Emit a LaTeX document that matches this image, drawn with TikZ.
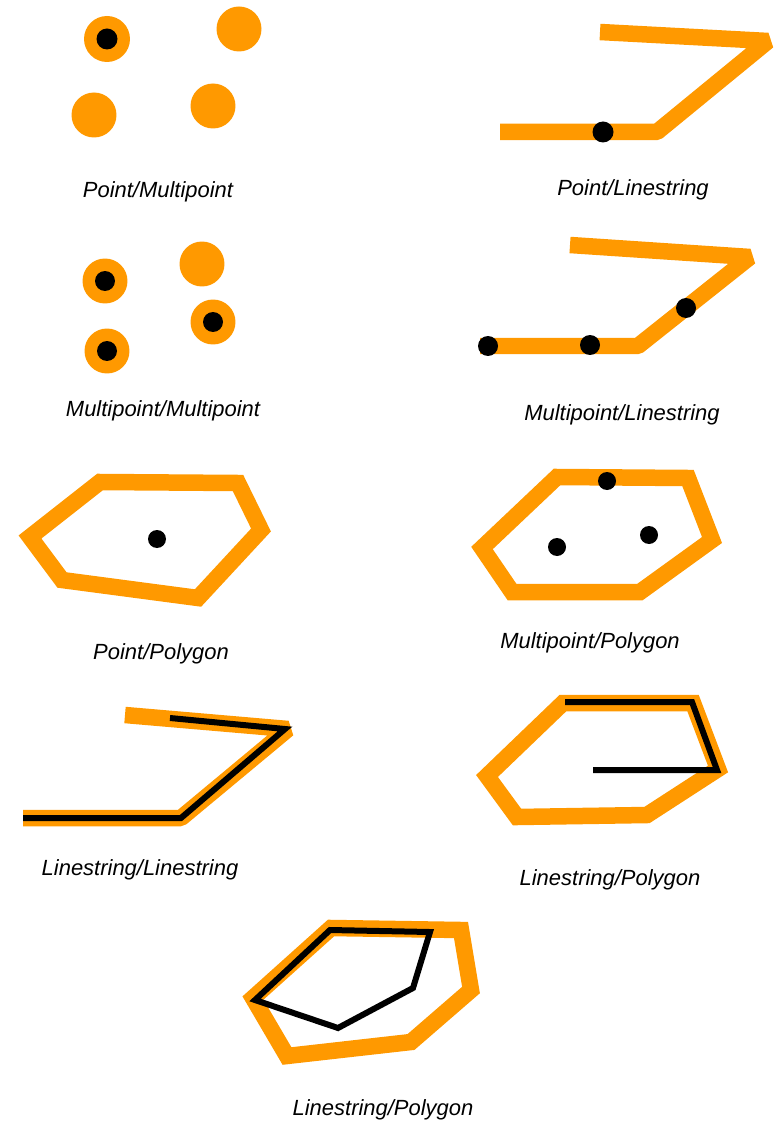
\documentclass[tikz,border=0pt]{standalone}
\usepackage{fontspec}
\setmainfont{Liberation Sans}
\usepackage{xcolor}
\definecolor{geoorange}{RGB}{255,153,0}
\definecolor{geoink}{RGB}{0,0,0}
\usepackage{tikz}
\usetikzlibrary{calc}
\tikzset{
  %% orange geometries (first operand)
  ptA/.style={fill=geoorange},
  lineA/.style={draw=geoorange, line width=3.3mm, line join=bevel, line cap=butt},
  polyA/.style={draw=geoorange, line width=3.3mm, line join=miter},
  %% black geometries (second operand)
  ptB/.style={fill=geoink},
  lineB/.style={draw=geoink, line width=1.2mm, line join=miter, line cap=butt},
  caption/.style={font=\itshape\fontsize{12.5}{14}\selectfont, text=geoink, inner sep=0pt},
}

\begin{document}
\begin{tikzpicture}[x=0.02cm, y=-0.02cm]
  \useasboundingbox (0,0) rectangle (783,1121);
  %% Point / Multipoint
  \fill[ptA] (107,39)  circle (4.6mm);
  \fill[ptA] (239,29)  circle (4.5mm);
  \fill[ptA] (94,115)  circle (4.5mm);
  \fill[ptA] (213,106) circle (4.5mm);
  \fill[ptB] (107,39)  circle (2.1mm);
  \node[caption] (capPM) at (158,192) {Point/Multipoint};
  %% Point / Linestring
  \draw[lineA] (500,132) -- (657,132) -- (768,41) -- (600,32);
  \fill[ptB] (603,132) circle (2.1mm);
  \node[caption] (capPL) at (633,190) {Point/Linestring};
  %% Multipoint / Multipoint
  \fill[ptA] (105,281) circle (4.5mm);
  \fill[ptA] (202,264) circle (4.5mm);
  \fill[ptA] (213,322) circle (4.5mm);
  \fill[ptA] (107,351) circle (4.5mm);
  \fill[ptB] (105,281) circle (2mm);
  \fill[ptB] (213,322) circle (2mm);
  \fill[ptB] (107,351) circle (2mm);
  \node[caption] (capMM) at (163,411) {Multipoint/Multipoint};
  %% Multipoint / Linestring
  \draw[lineA] (480,346) -- (638,346) -- (750,257) -- (570,245);
  \fill[ptB] (488,346) circle (2mm);
  \fill[ptB] (590,345) circle (2mm);
  \fill[ptB] (686,308) circle (2mm);
  \node[caption] (capML) at (622,415) {Multipoint/Linestring};
  %% Point / Polygon
  \draw[polyA] (100,482) -- (238,483) -- (261,530) -- (198,598)
    -- (62,580) -- (30,537) -- cycle;
  \fill[ptB] (157,539) circle (1.8mm);
  \node[caption] (capPP) at (161,654) {Point/Polygon};
  %% Multipoint / Polygon
  \draw[polyA] (557,477) -- (688,478) -- (712,540) -- (640,592)
    -- (512,592) -- (482,548) -- cycle;
  \fill[ptB] (607,481) circle (1.8mm);
  \fill[ptB] (649,535) circle (1.8mm);
  \fill[ptB] (557,547) circle (1.8mm);
  \node[caption] (capMP) at (590,643) {Multipoint/Polygon};
  %% Linestring / Linestring
  \draw[lineA] (23,818) -- (181,818) -- (288,729) -- (125,715);
  \draw[lineB] (23,818) -- (181,818) -- (285,729) -- (170,718);
  \node[caption] (capLL) at (140,870) {Linestring/Linestring};
  %% Linestring / Polygon
  \draw[polyA] (563,703) -- (693,703) -- (718,769) -- (647,815)
    -- (517,817) -- (487,776) -- cycle;
  \draw[lineB] (565,702) -- (692,702) -- (717,770) -- (593,770);
  \node[caption] (capLP) at (610,880) {Linestring/Polygon};
  %% Linestring / Polygon (closed ring)
  \draw[polyA] (331,928) -- (461,930) -- (471,990) -- (411,1042)
    -- (287,1056) -- (253,998) -- cycle;
  \draw[lineB] (330,930) -- (430,932) -- (413,988) -- (338,1028)
    -- (255,1000) -- cycle;
  \node[caption] (capLR) at (383,1110) {Linestring/Polygon};
\end{tikzpicture}
\end{document}
